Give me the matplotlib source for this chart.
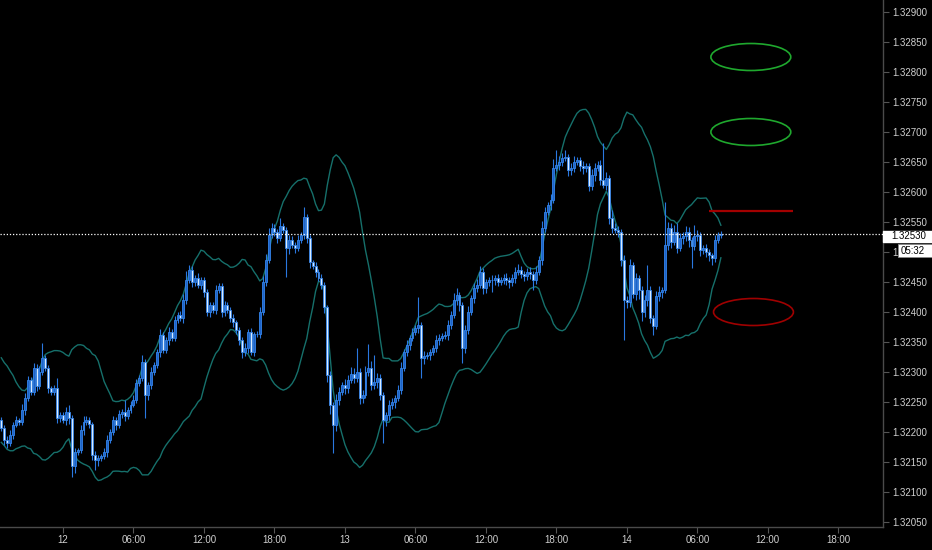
import numpy as np
import pandas as pd
import matplotlib
matplotlib.use('Agg')
import matplotlib.pyplot as plt
from matplotlib.patches import Ellipse, Rectangle

plt.rcParams['font.family'] = ['Liberation Sans', 'DejaVu Sans']

# --- datos: velas de 15 min, precios en pipetas sobre 1.32000 ---
BASE = 1.32000
PIP = 0.00001

# 20 cierres previos (fuera de la ventana visible), solo alimentan las bandas
pre_closes = [312, 320, 303, 300, 287, 295, 278, 270, 262, 267,
              253, 245, 237, 250, 228, 220, 212, 203, 207, 220]

closes = [
    207, 187, 182, 195, 212, 220, 217, 237, 257, 287,
    267, 307, 277, 300, 323, 307, 273, 267, 273, 223,
    228, 220, 233, 223, 143, 167, 170, 203, 217, 220,
    213, 162, 153, 157, 160, 167, 187, 200, 220, 212,
    230, 233, 227, 237, 245, 253, 282, 290, 317, 262,
    278, 300, 312, 333, 362, 337, 353, 367, 357, 387,
    395, 390, 420, 453, 470, 450, 457, 445, 453, 433,
    400, 412, 403, 437, 443, 400, 412, 403, 390, 383,
    370, 353, 333, 340, 367, 333, 363, 363, 400, 450,
    487, 528, 540, 533, 523, 543, 537, 507, 520, 512,
    507, 520, 528, 558, 523, 483, 477, 467, 457, 445,
    408, 295, 245, 212, 253, 267, 278, 273, 287, 297,
    290, 300, 257, 262, 300, 307, 278, 283, 290, 262,
    220, 228, 245, 250, 257, 270, 307, 333, 345, 357,
    367, 373, 378, 323, 327, 328, 333, 340, 353, 357,
    360, 362, 378, 395, 420, 428, 412, 340, 370, 400,
    423, 440, 445, 467, 440, 450, 453, 453, 457, 450,
    453, 457, 453, 450, 457, 467, 470, 463, 460, 467,
    463, 453, 467, 487, 540, 567, 578, 587, 640, 645,
    650, 657, 658, 637, 640, 650, 653, 643, 640, 643,
    610, 628, 640, 645, 620, 612, 623, 557, 540, 537,
    533, 487, 420, 417, 478, 430, 457, 437, 400, 420,
    437, 390, 377, 427, 433, 437, 512, 540, 517, 533,
    507, 523, 527, 533, 520, 510, 527, 528, 503, 507,
    500, 495, 490, 520, 528, 530,
]

wick_up = [
    5, 4, 6, 8, 5, 6, 4, 10, 8, 6,
    5, 8, 6, 10, 25, 6, 5, 4, 6, 17,
    5, 6, 8, 12, 5, 6, 4, 8, 10, 6,
    5, 4, 6, 5, 4, 6, 8, 5, 6, 5,
    6, 5, 20, 4, 6, 8, 6, 5, 12, 5,
    6, 8, 5, 6, 10, 4, 6, 8, 5, 6,
    5, 6, 10, 15, 8, 6, 5, 8, 6, 5,
    6, 5, 4, 8, 6, 5, 6, 4, 5, 6,
    4, 5, 6, 8, 5, 6, 4, 6, 8, 10,
    10, 12, 8, 6, 5, 13, 6, 5, 8, 6,
    5, 8, 6, 17, 6, 5, 4, 6, 5, 6,
    5, 4, 6, 5, 10, 8, 6, 10, 8, 12,
    10, 40, 6, 8, 10, 40, 12, 45, 8, 6,
    5, 6, 8, 6, 5, 8, 10, 6, 8, 5,
    6, 5, 47, 6, 8, 5, 6, 5, 8, 6,
    5, 6, 8, 6, 12, 12, 6, 5, 8, 10,
    6, 8, 10, 10, 6, 5, 6, 8, 5, 6,
    5, 6, 8, 5, 6, 8, 10, 6, 5, 6,
    8, 5, 10, 6, 12, 8, 6, 10, 15, 25,
    10, 8, 12, 6, 8, 10, 6, 5, 8, 6,
    6, 10, 8, 6, 8, 62, 10, 6, 13, 8,
    6, 5, 8, 6, 10, 6, 8, 5, 6, 8,
    42, 6, 5, 8, 10, 5, 72, 10, 8, 12,
    15, 8, 6, 10, 8, 5, 18, 8, 6, 5,
    6, 5, 4, 8, 6, 5,
]

wick_dn = [
    6, 8, 8, 5, 6, 4, 5, 6, 8, 5,
    6, 5, 8, 6, 5, 6, 8, 5, 6, 8,
    6, 5, 8, 10, 18, 12, 6, 5, 8, 5,
    6, 8, 17, 10, 6, 5, 8, 6, 5, 8,
    5, 6, 8, 5, 6, 4, 5, 6, 5, 38,
    8, 6, 5, 6, 8, 5, 6, 8, 6, 5,
    6, 5, 8, 6, 5, 8, 6, 5, 6, 8,
    6, 8, 5, 6, 5, 8, 6, 5, 6, 8,
    6, 8, 10, 6, 8, 5, 6, 5, 6, 5,
    6, 5, 4, 6, 8, 5, 6, 48, 10, 6,
    8, 6, 5, 6, 8, 10, 6, 8, 5, 6,
    10, 12, 15, 47, 10, 8, 6, 10, 8, 6,
    8, 6, 10, 8, 5, 6, 8, 6, 10, 8,
    38, 10, 8, 6, 10, 5, 6, 5, 6, 8,
    5, 6, 8, 33, 10, 6, 8, 5, 6, 8,
    6, 5, 8, 6, 5, 8, 10, 25, 8, 6,
    5, 8, 6, 5, 10, 8, 6, 20, 8, 6,
    5, 6, 8, 10, 6, 8, 5, 6, 8, 6,
    8, 17, 6, 5, 8, 6, 5, 8, 6, 5,
    8, 6, 5, 10, 8, 6, 5, 8, 10, 6,
    8, 6, 10, 5, 8, 6, 8, 10, 8, 6,
    8, 10, 67, 10, 8, 6, 10, 15, 15, 8,
    10, 8, 15, 6, 8, 10, 6, 8, 10, 6,
    8, 6, 10, 8, 12, 37, 6, 8, 10, 6,
    8, 10, 12, 6, 5, 4,
]

# eje temporal: indice de vela (0 = 11 18:45), una vela cada 15 min
time_ticks = [21, 45, 69, 93, 117, 141, 165, 189, 213, 237, 261, 285]
time_labels = ['12', '06:00', '12:00', '18:00', '13', '06:00', '12:00', '18:00',
               '14', '06:00', '12:00', '18:00']

last_price = 1.32530
countdown = '05:32'

# dibujos del usuario
level_line = 1.32568
green_levels = [1.32825, 1.32700]
red_level = 1.32400

# --- calculos ---
c_all = BASE + np.array(pre_closes + closes) * PIP
n_pre = len(pre_closes)
c = c_all[n_pre:]
o = c_all[n_pre - 1:-1]
hi = np.maximum(o, c) + np.array(wick_up) * PIP
lo = np.minimum(o, c) - np.array(wick_dn) * PIP
x = np.arange(len(c))

s = pd.Series(c_all)
mid = s.rolling(20).mean()
sd = s.rolling(20).std(ddof=0)
upper = (mid + 2 * sd).values[n_pre:]
lower = (mid - 2 * sd).values[n_pre:]

# --- figura ---
W, H = 932, 550
fig = plt.figure(figsize=(W / 100, H / 100), dpi=100, facecolor='black')
ax = fig.add_axes([0, 23 / H, 883 / W, 527 / H])
ax.set_facecolor('black')

blue_edge = '#3585ea'
up = c >= o
ax.vlines(x, lo, hi, color='#2a78e0', lw=0.8, zorder=2)
h_up = np.maximum((c - o)[up], 0.8 * PIP)
h_dn = np.maximum((o - c)[~up], 0.8 * PIP)
ax.bar(x[up], h_up, bottom=o[up], width=0.66, color='#1d62c8',
       edgecolor=blue_edge, lw=0.6, zorder=3)
ax.bar(x[~up], h_dn, bottom=c[~up], width=0.66, color='#d8ebff',
       edgecolor=blue_edge, lw=0.6, zorder=3)

ax.plot(x, upper, color='#16706b', lw=1.0, zorder=1)
ax.plot(x, lower, color='#16706b', lw=1.0, zorder=1)

ax.axhline(last_price, color='white', lw=0.9, ls=(0, (1, 1.5)), zorder=4)

# lineas y elipses dibujadas
ax.hlines(level_line, 240.9, 269.5, color='#a30000', lw=1.6, zorder=4)
for lvl in green_levels:
    ax.add_patch(Ellipse((255.2, lvl), 27.2, 0.00045, fill=False,
                         ec='#1fa82e', lw=1.2, zorder=4))
ax.add_patch(Ellipse((256.1, red_level), 27.2, 0.00045, fill=False,
                     ec='#a00000', lw=1.2, zorder=4))

ax.set_xlim(-0.44, 300.2)
ax.set_ylim(1.3204167, 1.3292)

yt = np.arange(1.3205, 1.32901, 0.0005)
ax.yaxis.tick_right()
ax.set_yticks(yt)
ax.set_yticklabels([f'{v:.5f}' for v in yt])
ax.set_xticks(time_ticks)
ax.set_xticklabels(time_labels)

ax.tick_params(axis='y', length=4, pad=3, labelsize=7, labelcolor='#cfcfcf',
               color='#555555', width=0.8)
ax.tick_params(axis='x', length=4, pad=2, labelsize=7, labelcolor='#cfcfcf',
               color='#555555', width=0.8)
for side in ['top', 'left']:
    ax.spines[side].set_visible(False)
for side in ['right', 'bottom']:
    ax.spines[side].set_color('#4a4a4a')
    ax.spines[side].set_linewidth(1.0)

# etiqueta de precio actual y cuenta atras
fig.patches.append(Rectangle((883 / W, 1 - 242 / H), 49 / W, 11 / H,
                             transform=fig.transFigure, fc='white', ec='white', zorder=5))
fig.text(891 / W, 1 - 236.5 / H, f'{last_price:.5f}', fontsize=7, color='black',
         ha='left', va='center', zorder=6)
fig.patches.append(Rectangle((897.5 / W, 1 - 257 / H), 35 / W, 13 / H,
                             transform=fig.transFigure, fc='white', ec='#888888',
                             lw=0.6, zorder=5))
fig.text(901 / W, 1 - 250.5 / H, countdown, fontsize=7, color='black',
         ha='left', va='center', zorder=6)

fig.savefig('out.png', dpi=100, facecolor='black')
